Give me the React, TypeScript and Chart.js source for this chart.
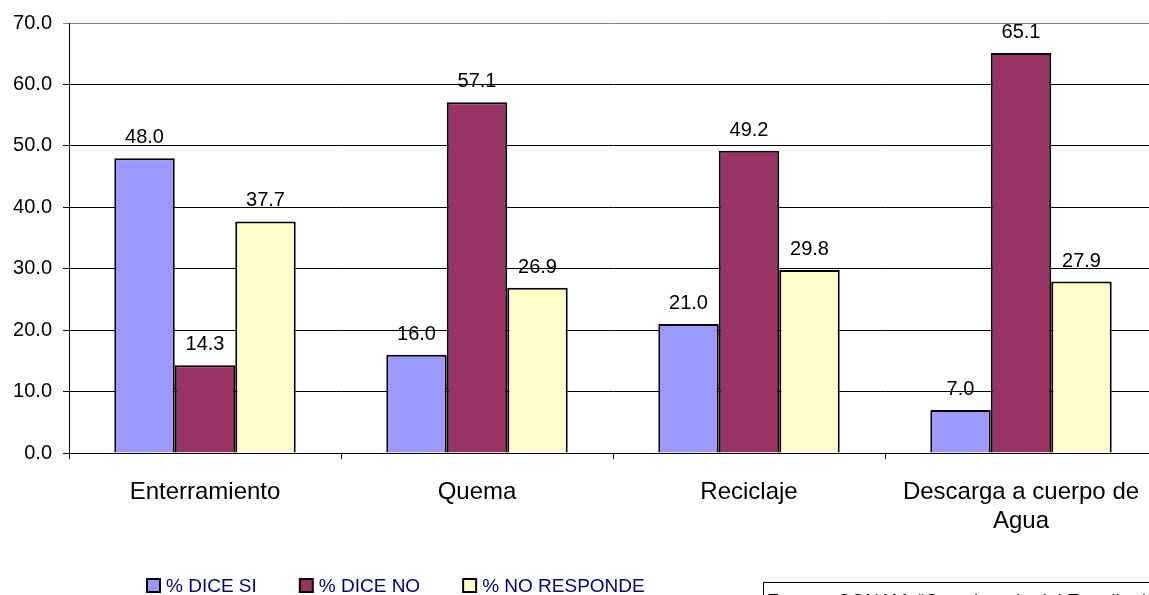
import React, { useEffect, useRef } from "react";
import { Chart, registerables } from "chart.js";

Chart.register(...registerables);

const categories: (string | string[])[] = ["Enterramiento", "Quema", "Reciclaje", ["Descarga a cuerpo de", "Agua"]];
const seriesNames = ["% DICE SI", "% DICE NO", "% NO RESPONDE"];
const diceSi = [48.0, 16.0, 21.0, 7.0];
const diceNo = [14.3, 57.1, 49.2, 65.1];
const noResponde = [37.7, 26.9, 29.8, 27.9];
const seriesColors = ["#9999FF", "#993366", "#FFFFCC"];
const yMin = 0;
const yMax = 70;
const yStep = 10;
const sourceText = "Fuente: CONAM, \u201cCuestionario del Estudio de Residuos S\u00f3lidos\u201d";

const FONT = "'Liberation Sans', Arial, sans-serif";

const valueLabels = {
  id: "valueLabels",
  afterDatasetsDraw(chart: any) {
    const ctx = chart.ctx;
    ctx.save();
    ctx.font = `20px ${FONT}`;
    ctx.fillStyle = "#000";
    ctx.textAlign = "center";
    ctx.textBaseline = "alphabetic";
    chart.data.datasets.forEach((ds: any, di: number) => {
      const meta = chart.getDatasetMeta(di);
      meta.data.forEach((bar: any, i: number) => {
        ctx.fillText(Number(ds.data[i]).toFixed(1), bar.x, bar.y - 15);
      });
    });
    ctx.restore();
  },
};

const customLegend = {
  id: "customLegend",
  afterDraw(chart: any) {
    const ctx = chart.ctx;
    ctx.save();
    ctx.font = `19px ${FONT}`;
    ctx.textBaseline = "middle";
    ctx.textAlign = "left";
    let x = 147;
    const cy = 585.5;
    chart.data.datasets.forEach((ds: any) => {
      ctx.fillStyle = ds.backgroundColor;
      ctx.fillRect(x, cy - 6.5, 13, 13);
      ctx.strokeStyle = "#000";
      ctx.lineWidth = 2;
      ctx.strokeRect(x, cy - 6.5, 13, 13);
      ctx.fillStyle = "#000080";
      const tx = x + 19;
      ctx.fillText(ds.label, tx, cy + 1);
      x = tx + ctx.measureText(ds.label).width + 43;
    });
    // source box
    ctx.strokeStyle = "#000";
    ctx.lineWidth = 1;
    ctx.strokeRect(763.5, 582.5, 600, 100);
    ctx.fillStyle = "#000";
    ctx.textBaseline = "alphabetic";
    ctx.fillText(sourceText, 767, 607);
    ctx.restore();
  },
};

export default function App() {
  const canvasRef = useRef<HTMLCanvasElement | null>(null);

  useEffect(() => {
    if (!canvasRef.current) return;
    const chart = new Chart(canvasRef.current, {
      type: "bar",
      data: {
        labels: categories as any,
        datasets: [diceSi, diceNo, noResponde].map((d, i) => ({
          label: seriesNames[i],
          data: d,
          backgroundColor: seriesColors[i],
          borderColor: "#000",
          borderWidth: 2,
          barPercentage: 1,
          categoryPercentage: 0.667,
        })),
      },
      options: {
        responsive: false,
        animation: false,
        devicePixelRatio: 1,
        layout: { padding: { top: 22, right: 3, left: 0, bottom: 0 } },
        plugins: {
          legend: { display: false },
          tooltip: { enabled: false },
        },
        scales: {
          x: {
            afterFit: (s: any) => {
              s.height = 142;
            },
            grid: {
              display: true,
              drawOnChartArea: false,
              drawTicks: true,
              tickLength: 6,
              color: "#000",
              offset: true,
            },
            border: { color: "#000", width: 1 },
            ticks: {
              color: "#000",
              font: { family: FONT, size: 24, lineHeight: 1.2 },
              padding: 19,
              maxRotation: 0,
              autoSkip: false,
            },
          },
          y: {
            min: yMin,
            max: yMax,
            afterFit: (s: any) => {
              s.width = 69;
            },
            grid: {
              color: (c: any) => (c.tick && c.tick.value === yMax ? "#808080" : "#000"),
              lineWidth: 1,
              drawTicks: true,
              tickLength: 6,
            },
            border: { color: "#000", width: 1 },
            ticks: {
              stepSize: yStep,
              color: "#000",
              font: { family: FONT, size: 20 },
              padding: 11,
              callback: (v: any) => Number(v).toFixed(1),
            },
          },
        },
      },
      plugins: [valueLabels, customLegend],
    });
    return () => chart.destroy();
  }, []);

  return (
    <div
      style={{
        position: "fixed",
        left: 0,
        top: 0,
        width: 1149,
        height: 595,
        overflow: "hidden",
        background: "#fff",
      }}
    >
      <canvas ref={canvasRef} width={1160} height={595} style={{ display: "block", width: 1160, height: 595 }} />
    </div>
  );
}
